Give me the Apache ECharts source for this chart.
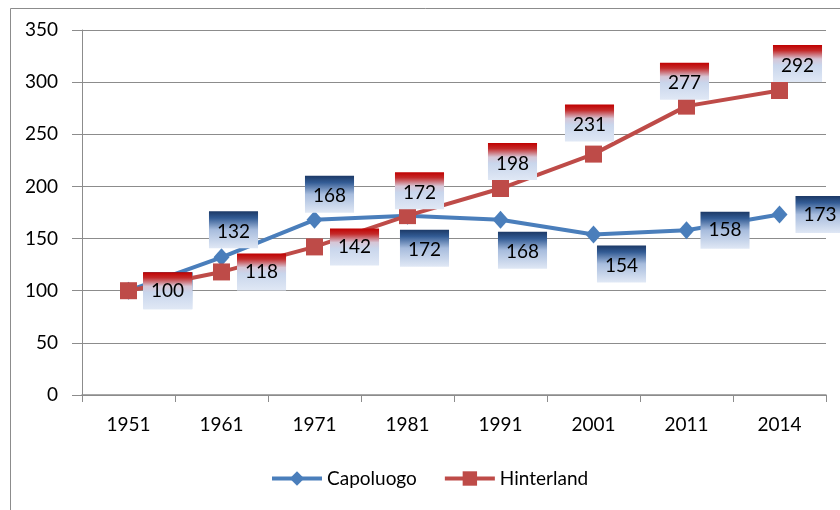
<!DOCTYPE html>
<html>
<head>
<meta charset="utf-8">
<script src="https://cdn.jsdelivr.net/npm/echarts@6/dist/echarts.min.js"></script>
<style>html,body{margin:0;padding:0;background:#fff}#c{width:840px;height:510px}</style>
</head>
<body>
<div id="c"></div>
<script>
// ---- data ----
const years = ['1951','1961','1971','1981','1991','2001','2011','2014'];
const capoluogo = [100,132,168,172,168,154,158,173];
const hinterland = [100,118,142,172,198,231,277,292];
const yTicks = {min:0, max:350, interval:50};

// ---- label placement styles (not data) ----
const capLabelPos = ['right','top','top','bottom','bottom','bottom','right','right'];
const capLabelDist = [7,0,-2,5,3,2,6,8];
const capLabelDx = [0,12,15,17,22,28,0,0];
const hinLabelPos = ['right','right','right','top','top','top','top','top'];
const hinLabelDist = [6,7,7,-2,0,4,-2,0];
const hinLabelDx = [0,0,0,12,12,-4,-2,18];

const G = echarts.graphic.LinearGradient;
const blueBg = new G(0,0,0,1,[
  {offset:0,color:'#1c3966'},{offset:0.18,color:'#325b94'},
  {offset:0.5,color:'#a7bcdd'},{offset:1,color:'#e0e8f5'}]);
const redBg = new G(0,0,0,1,[
  {offset:0,color:'#c00000'},{offset:0.15,color:'#c42a2a'},
  {offset:0.38,color:'#d6c6d6'},{offset:0.55,color:'#c9d6ec'},{offset:1,color:'#e0e8f5'}]);

const FONT = 'Lato';

function buildData(vals, pos, dist, dx, bg){
  return vals.map((v,i)=>({
    value:v,
    label:{show:true, position:pos[i], distance:dist[i], offset:[dx[i],0],
      backgroundColor:bg, padding:[11,8,7,8], fontSize:19, lineHeight:19,
      color:'#000', fontFamily:FONT}
  }));
}

const chart = echarts.init(document.getElementById('c'), null, {renderer:'canvas'});
chart.setOption({
  animation:false,
  backgroundColor:'#fff',
  textStyle:{fontFamily:FONT},
  graphic:[{type:'rect', left:8, top:6, shape:{width:900,height:600}, silent:true,
    style:{fill:'none', stroke:'#8c8c8c', lineWidth:1}, z:-10}],
  grid:{left:82, right:14, top:30, bottom:115, containLabel:false},
  legend:{
    data:['Capoluogo','Hinterland'], left:265, top:464,
    itemWidth:50, itemHeight:18, itemGap:26,
    lineStyle:{width:4},
    textStyle:{fontSize:19, fontFamily:FONT, color:'#000'}
  },
  xAxis:{
    type:'category', data:years, boundaryGap:true,
    axisLine:{lineStyle:{color:'#8c8c8c', width:1.5}},
    axisTick:{show:true, length:7, lineStyle:{color:'#8c8c8c'}},
    axisLabel:{fontSize:19, color:'#000', margin:20, fontFamily:FONT}
  },
  yAxis:{
    type:'value', min:yTicks.min, max:yTicks.max, interval:yTicks.interval,
    axisLine:{show:true, lineStyle:{color:'#8c8c8c'}},
    axisTick:{show:true, length:10, lineStyle:{color:'#8c8c8c'}},
    splitLine:{lineStyle:{color:'#8c8c8c', width:1}},
    axisLabel:{fontSize:19, color:'#000', margin:24, fontFamily:FONT}
  },
  series:[
    {name:'Capoluogo', type:'line', data:buildData(capoluogo,capLabelPos,capLabelDist,capLabelDx,blueBg),
     symbol:'diamond', symbolSize:[16,18], color:'#4a7ebb',
     lineStyle:{width:4, color:'#4a7ebb'}, itemStyle:{color:'#4a7ebb'}, z:2},
    {name:'Hinterland', type:'line', data:buildData(hinterland,hinLabelPos,hinLabelDist,hinLabelDx,redBg),
     symbol:'rect', symbolSize:17, color:'#be4b48',
     lineStyle:{width:4, color:'#be4b48'}, itemStyle:{color:'#be4b48'}, z:3}
  ]
});
</script>
</body>
</html>
